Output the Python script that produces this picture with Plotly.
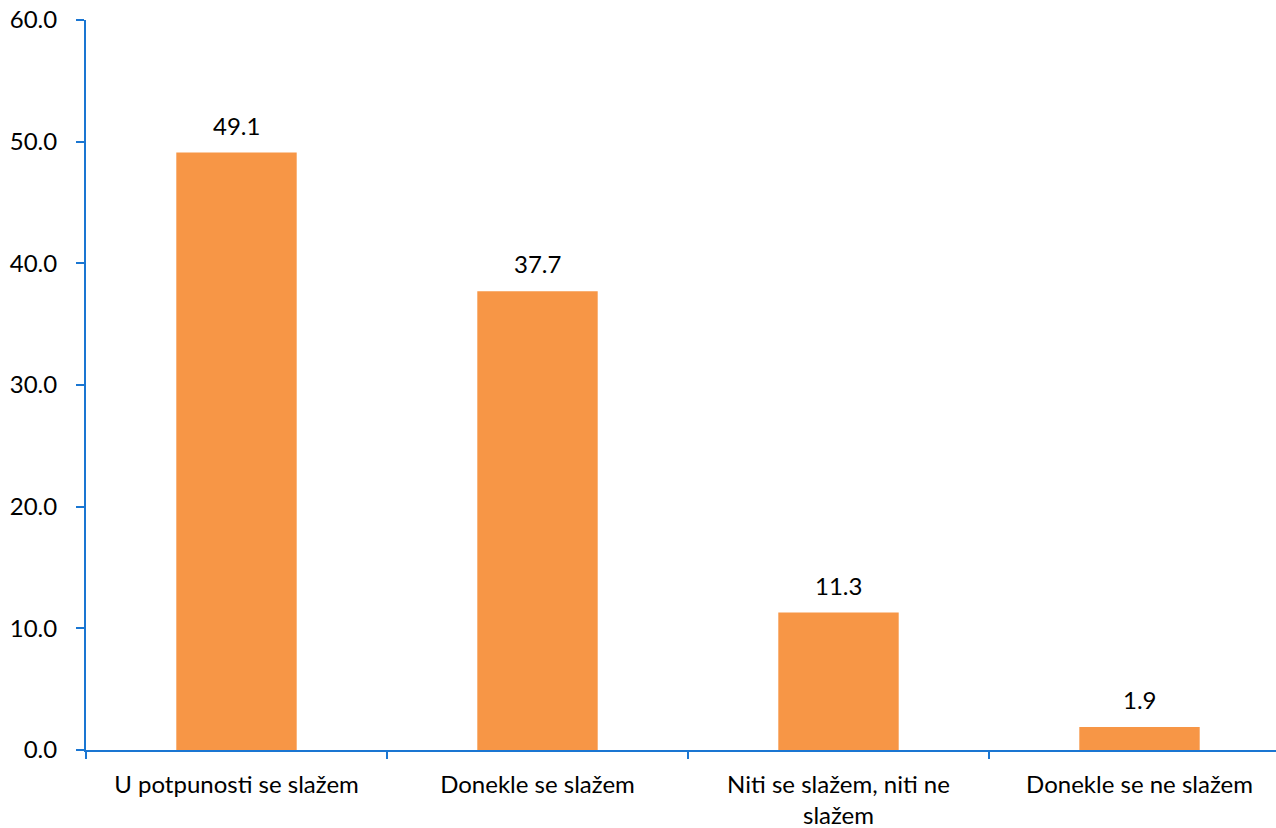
import plotly.graph_objects as go

categories = ["U potpunosti se slažem", "Donekle se slažem", "Niti se slažem, niti ne<br>slažem", "Donekle se ne slažem"]
values = [49.1, 37.7, 11.3, 1.9]
y_ticks = [0, 10, 20, 30, 40, 50, 60]
y_tick_labels = ["0.0", "10.0", "20.0", "30.0", "40.0", "50.0", "60.0"]

axis_color = "#1A76D2"
font_family = "Lato, Carlito, 'Open Sans', sans-serif"
fs = 24

fig = go.Figure()
fig.add_trace(go.Bar(
    x=list(range(len(categories))),
    y=values,
    width=0.4,
    marker=dict(color="#F79646", line=dict(width=0)),
    hoverinfo="skip",
))
for i, v in enumerate(values):
    fig.add_annotation(x=i, y=v, text=f"{v:.1f}", showarrow=False,
                       yanchor="bottom", yshift=11,
                       font=dict(size=fs, color="#000000", family=font_family))

fig.update_layout(
    width=1276, height=828,
    margin=dict(l=86, r=0, t=20, b=78, autoexpand=False),
    plot_bgcolor="white", paper_bgcolor="white",
    font=dict(family=font_family, size=fs, color="#000000"),
    showlegend=False,
)
fig.update_xaxes(
    range=[-0.5, 3.5 - 14/301],
    tickmode="array",
    tickvals=list(range(len(categories))),
    ticktext=categories,
    ticks="",
    ticklabelstandoff=12,
    ticklabeloverflow="allow",
    showline=True, linecolor=axis_color, linewidth=2,
    showgrid=False, zeroline=False, automargin=False,
    tickfont=dict(size=fs, color="#000000"),
)
# category boundary tick marks
fig.update_layout(xaxis2=dict(
    overlaying="x", matches="x", side="bottom",
    tickmode="array", tickvals=[-0.5, 0.5, 1.5, 2.5],
    ticks="outside", ticklen=8, tickcolor=axis_color, tickwidth=2,
    showticklabels=False, showgrid=False, zeroline=False, showline=False,
    anchor="y", automargin=False,
))
fig.add_trace(go.Scatter(x=[0], y=[0], xaxis="x2", mode="markers",
                         marker=dict(opacity=0), hoverinfo="skip", showlegend=False))
fig.update_yaxes(
    range=[0, 60],
    tickmode="array", tickvals=y_ticks, ticktext=y_tick_labels,
    ticks="outside", ticklen=8, tickcolor=axis_color, tickwidth=2,
    ticklabelstandoff=14,
    ticklabeloverflow="allow",
    showline=True, linecolor=axis_color, linewidth=2,
    showgrid=False, zeroline=False, automargin=False,
    tickfont=dict(size=fs, color="#000000"),
)

fig.write_html("out.html", config={"displayModeBar": False, "staticPlot": True},
               post_script="document.body.style.margin='0';document.body.style.overflow='hidden';")
